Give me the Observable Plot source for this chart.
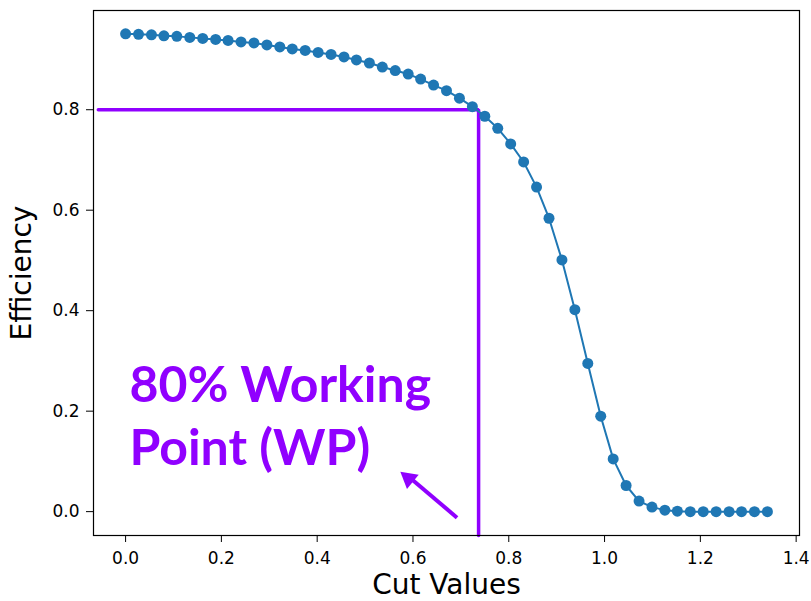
<!DOCTYPE html>
<html><head><meta charset="utf-8">
<script src="https://cdn.jsdelivr.net/npm/d3@7"></script>
<script src="https://cdn.jsdelivr.net/npm/@observablehq/plot@0.6"></script>
<style>body{margin:0;background:#fff}</style>
</head><body><div id="chart"></div>
<script>
const cutValues = [0, 0.027, 0.054, 0.080, 0.107, 0.134, 0.161, 0.188, 0.214, 0.241,
  0.268, 0.295, 0.322, 0.348, 0.375, 0.402, 0.429, 0.456, 0.482, 0.509,
  0.536, 0.563, 0.590, 0.616, 0.643, 0.670, 0.697, 0.724, 0.750, 0.777,
  0.804, 0.831, 0.858, 0.884, 0.911, 0.938, 0.965, 0.992, 1.018, 1.045,
  1.072, 1.099, 1.126, 1.152, 1.179, 1.206, 1.233, 1.260, 1.286, 1.313, 1.340];
const efficiency = [0.951, 0.950, 0.949, 0.947, 0.946, 0.944, 0.942, 0.940, 0.938, 0.935,
  0.933, 0.929, 0.925, 0.921, 0.918, 0.914, 0.910, 0.905, 0.899, 0.893,
  0.885, 0.878, 0.871, 0.861, 0.849, 0.838, 0.823, 0.806, 0.787, 0.763,
  0.732, 0.696, 0.646, 0.584, 0.501, 0.402, 0.295, 0.190, 0.105, 0.052,
  0.021, 0.009, 0.003, 0.001, 0, 0, 0, 0, 0, 0, 0];
const xTicks = [0, 0.2, 0.4, 0.6, 0.8, 1.0, 1.2, 1.4];
const yTicks = [0, 0.2, 0.4, 0.6, 0.8];
const wpLine = [{x: -0.057, y: 0.8}, {x: 0.737, y: 0.8}, {x: 0.737, y: -0.0475}];
const wpLabel = [{x: 0.008, y: 0.3075, text: "80% Working\nPoint (WP)"}];
const wpArrow = [{x1: 0.692, y1: -0.012, x2: 0.593, y2: 0.068, tipX: 0.591, tipY: 0.066}];
const xLabel = "Cut Values";
const yLabel = "Efficiency";

const data = cutValues.map((c, i) => ({cut: c, eff: efficiency[i]}));
const purple = "#9000ff";
const blue = "#1f77b4";

const chart = Plot.plot({
  width: 811,
  height: 601,
  marginLeft: 93,
  marginRight: 12,
  marginTop: 10,
  marginBottom: 66,
  style: {fontFamily: "DejaVu Sans", background: "#fff", color: "#000"},
  x: {domain: [-0.067, 1.407]},
  y: {domain: [-0.0475, 0.9975]},
  marks: [
    Plot.line(wpLine, {x: "x", y: "y", stroke: purple, strokeWidth: 3.5, strokeLinejoin: "miter"}),
    Plot.line(data, {x: "cut", y: "eff", stroke: blue, strokeWidth: 2}),
    Plot.dot(data, {x: "cut", y: "eff", r: 5.5, fill: blue, stroke: "none"}),
    Plot.link(wpArrow, {x1: "x1", y1: "y1", x2: "x2", y2: "y2", stroke: purple, strokeWidth: 4}),
    Plot.dot(wpArrow, {x: "tipX", y: "tipY", symbol: "triangle", r: 6.9, fill: purple, stroke: "none", rotate: -51}),
    Plot.text(wpLabel, {x: "x", y: "y", text: "text", textAnchor: "start", lineAnchor: "top",
      lineHeight: 1.26, fontSize: 50, fontWeight: "bold", fontFamily: "Lato", fill: purple}),
    Plot.frame({stroke: "#000", strokeWidth: 1.2}),
    Plot.axisX(xTicks, {tickSize: 7, tickPadding: 9, fontSize: 17, tickFormat: d => d.toFixed(1), label: null}),
    Plot.axisY(yTicks, {tickSize: 7, tickPadding: 7, fontSize: 17, tickFormat: d => d.toFixed(1), label: null}),
    Plot.text([xLabel], {frameAnchor: "bottom", text: d => d, dy: 58, textAnchor: "middle", lineAnchor: "bottom", fontSize: 28, fill: "#000"}),
    Plot.text([yLabel], {frameAnchor: "left", text: d => d, dx: -71, rotate: -90, textAnchor: "middle", lineAnchor: "middle", fontSize: 28, fill: "#000"})
  ]
});
document.getElementById("chart").appendChild(chart);
</script>
</body></html>
